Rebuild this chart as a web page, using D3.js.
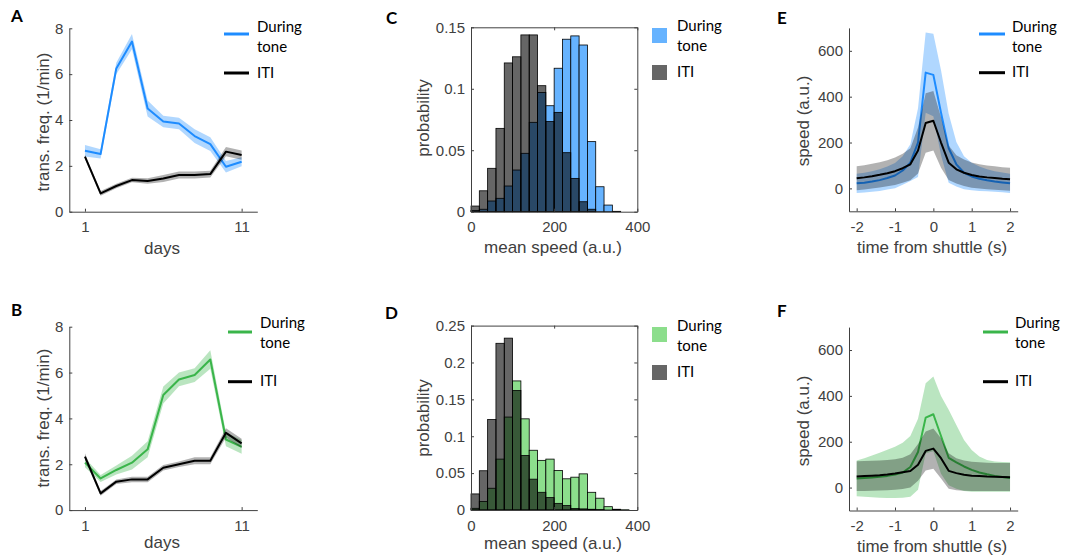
<!DOCTYPE html>
<html><head><meta charset="utf-8">
<script src="https://cdn.jsdelivr.net/npm/d3@7"></script>
<style>body{margin:0;background:#fff}svg{display:block}</style>
</head><body><svg id="c" width="1065" height="558"></svg>
<script>
// ---------- data ----------
const days = [1,2,3,4,5,6,7,8,9,10,11];
const dayTicks = [1, 11];
const freqTicks = [0, 2, 4, 6, 8];
const aToneMean = [2.66,2.52,6.25,7.42,4.5,3.93,3.85,3.3,2.95,1.96,2.18];
const aToneErr  = [0.25,0.2,0.25,0.33,0.35,0.25,0.25,0.3,0.3,0.25,0.2];
const aItiMean  = [2.4,0.8,1.12,1.38,1.34,1.45,1.6,1.6,1.64,2.62,2.47];
const aItiErr   = [0.1,0.1,0.1,0.1,0.12,0.15,0.15,0.15,0.15,0.2,0.2];
const bToneMean = [2.07,1.38,1.75,2.07,2.65,5.02,5.7,5.89,6.57,3.08,2.76];
const bToneErr  = [0.2,0.15,0.2,0.3,0.35,0.37,0.3,0.3,0.4,0.3,0.3];
const bItiMean  = [2.33,0.73,1.24,1.34,1.34,1.85,2.0,2.15,2.15,3.37,2.91];
const bItiErr   = [0.15,0.1,0.1,0.12,0.12,0.12,0.12,0.15,0.15,0.2,0.2];

const binStarts = [0,20,40,60,80,100,120,140,160,180,200,220,240,260,280,300,320,340,360,380];
const speedTicks = [0, 200, 400];
const cProbTicks = [0, 0.05, 0.1, 0.15];
const dProbTicks = [0, 0.05, 0.1, 0.15, 0.2, 0.25];
const cToneProb = [0.001,0.002,0.0087,0.0109,0.0209,0.0339,0.0475,0.0727,0.097,0.0862,0.1167,0.1403,0.143,0.1356,0.057,0.0203,0.0054,0.0003,0,0];
const cItiProb  = [0.0046,0.017,0.0353,0.0678,0.121,0.126,0.1438,0.1438,0.1025,0.0733,0.0808,0.048,0.0271,0.0081,0.002,0,0,0,0,0];
const dToneProb = [0.0023,0.0114,0.0295,0.069,0.126,0.175,0.1236,0.081,0.0673,0.069,0.0536,0.0423,0.0445,0.049,0.024,0.016,0.0045,0.001,0.0003,0];
const dItiProb  = [0.0218,0.0532,0.1227,0.226,0.233,0.162,0.074,0.0418,0.024,0.0168,0.009,0.006,0.002,0.0015,0.001,0.0005,0,0,0,0];

const shuttleTime = [-2,-1.8,-1.6,-1.4,-1.2,-1,-0.8,-0.6,-0.4,-0.2,0,0.2,0.4,0.6,0.8,1,1.2,1.4,1.6,1.8,2];
const timeTicks = [-2,-1,0,1,2];
const speedYTicks = [0,200,400,600];
const eToneMean = [22,25,30,36,45,56,78,112,200,505,495,330,175,105,68,52,42,35,30,26,22];
const eToneHi   = [64,68,75,83,95,111,140,192,350,680,675,515,325,202,140,112,95,83,75,69,64];
const eToneLo   = [-20,-18,-15,-11,-5,1,16,32,50,330,315,145,25,8,-4,-8,-11,-13,-15,-17,-20];
const eItiMean  = [44,48,53,59,66,75,88,105,165,285,295,200,112,83,68,58,52,48,45,42,40];
const eItiHi    = [96,101,107,114,123,135,151,175,265,415,425,310,187,145,126,113,105,100,96,92,90];
const eItiLo    = [-8,-5,-1,4,9,15,25,35,65,155,165,90,37,21,10,3,-1,-4,-6,-8,-10];
const fToneMean = [40,42,44,47,51,57,66,90,155,305,320,225,130,110,92,77,66,58,51,46,42];
const fToneHi   = [118,128,140,152,165,178,195,225,300,455,484,400,339,273,208,164,136,120,114,112,110];
const fToneLo   = [-38,-40,-42,-44,-45,-45,-44,-40,-10,150,158,60,10,-5,-15,-18,-18,-18,-18,-18,-18];
const fItiMean  = [48,50,52,54,57,61,67,72,100,160,170,128,73,63,56,52,50,48,47,46,45];
const fItiHi    = [115,116,117,118,120,124,130,145,190,245,258,215,150,128,118,113,110,108,107,107,107];
const fItiLo    = [-15,-15,-14,-13,-12,-10,-6,0,30,75,82,40,-5,-12,-14,-15,-15,-15,-15,-15,-15];

// ---------- style ----------
const AXC = "#404040";
const FONT_AX = "'Liberation Sans', Arial, Helvetica, sans-serif";
const FONT_LG = "Lato, 'Open Sans', sans-serif";
const BLUE = "#1e8cff", BLUE_HIST = "#66b3ff";
const GREEN = "#3ab54a", GREEN_HIST = "#8cde8c";

const svg = d3.select("#c");

function drawAxes(x, y, xt, yt, xf, yf, box) {
  const g = svg.append("g");
  g.append("g").attr("transform", `translate(0,${y.range()[0]})`)
    .call(d3.axisBottom(x).tickValues(xt).tickFormat(xf).tickSizeInner(-3).tickSizeOuter(0).tickPadding(10));
  g.append("g").attr("transform", `translate(${x.range()[0]},0)`)
    .call(d3.axisLeft(y).tickValues(yt).tickFormat(yf).tickSizeInner(-3).tickSizeOuter(0).tickPadding(6));
  if (box) {
    g.append("g").attr("transform", `translate(0,${y.range()[1]})`)
      .call(d3.axisTop(x).tickValues(xt).tickFormat("").tickSizeInner(-3).tickSizeOuter(0));
    g.append("g").attr("transform", `translate(${x.range()[1]},0)`)
      .call(d3.axisRight(y).tickValues(yt).tickFormat("").tickSizeInner(-3).tickSizeOuter(0));
  }
  g.selectAll(".domain").attr("stroke", AXC).attr("stroke-width", 1);
  g.selectAll(".tick line").attr("stroke", AXC);
  g.selectAll(".tick text").attr("fill", AXC).style("font-family", FONT_AX).style("font-size", "15px");
  return g;
}

function label(txt, cx, cy, rot) {
  svg.append("text").attr("transform", `translate(${cx},${cy})` + (rot ? " rotate(-90)" : ""))
    .attr("text-anchor", "middle").attr("dy", "0.35em")
    .attr("fill", AXC).style("font-family", FONT_AX).style("font-size", "17px").text(txt);
}

function panelLetter(t, x, cy) {
  svg.append("text").attr("x", x).attr("y", cy).attr("dy", "0.36em")
    .style("font-family", FONT_LG).style("font-weight", "bold").style("font-size", "17px")
    .attr("fill", "#000").text(t);
}

function legendText(t, x, cy) {
  svg.append("text").attr("x", x).attr("y", cy).attr("dy", "0.35em")
    .style("font-family", FONT_LG).style("font-size", "15px").attr("fill", "#000").text(t);
}

function lineLegend(color, x0, x1, yTone, yIti, tx, tyDuring, tyTone, tyIti) {
  svg.append("line").attr("x1", x0).attr("x2", x1).attr("y1", yTone).attr("y2", yTone).attr("stroke", color).attr("stroke-width", 3);
  svg.append("line").attr("x1", x0).attr("x2", x1).attr("y1", yIti).attr("y2", yIti).attr("stroke", "#000").attr("stroke-width", 3);
  legendText("During", tx, tyDuring); legendText("tone", tx, tyTone); legendText("ITI", tx, tyIti);
}

function patchLegend(color, x0, yTone, yIti, tx, tyDuring, tyTone, tyIti) {
  svg.append("rect").attr("x", x0).attr("y", yTone).attr("width", 15).attr("height", 15).attr("fill", color);
  svg.append("rect").attr("x", x0).attr("y", yIti).attr("width", 15).attr("height", 15).attr("fill", "#666666");
  legendText("During", tx, tyDuring); legendText("tone", tx, tyTone); legendText("ITI", tx, tyIti);
}

function bandLine(x, y, xs, lo, hi, mean, color, bandColor, bandOp) {
  const idx = xs.map((_, i) => i);
  svg.append("path").datum(idx)
    .attr("d", d3.area().x(i => x(xs[i])).y0(i => y(lo[i])).y1(i => y(hi[i])))
    .attr("fill", bandColor).attr("fill-opacity", bandOp).attr("stroke", "none");
  svg.append("path").datum(idx)
    .attr("d", d3.line().x(i => x(xs[i])).y(i => y(mean[i])))
    .attr("fill", "none").attr("stroke", color).attr("stroke-width", 2).attr("stroke-linejoin", "round");
}

function linePanel(top, toneMean, toneErr, itiMean, itiErr, color) {
  const x = d3.scaleLinear().domain([0, 12]).range([69.3, 257.3]);
  const y = d3.scaleLinear().domain([0, 8]).range([top + 183.4, top]);
  const tLo = toneMean.map((m, i) => m - toneErr[i]), tHi = toneMean.map((m, i) => m + toneErr[i]);
  const iLo = itiMean.map((m, i) => m - itiErr[i]), iHi = itiMean.map((m, i) => m + itiErr[i]);
  bandLine(x, y, days, tLo, tHi, toneMean, color, color, 0.35);
  bandLine(x, y, days, iLo, iHi, itiMean, "#000", "#000", 0.3);
  drawAxes(x, y, dayTicks, freqTicks, d => String(d), d => String(d), false);
}

function histPanel(top, yMax, yTicks, toneProb, itiProb, toneColor) {
  const x = d3.scaleLinear().domain([0, 400]).range([471, 637.3]);
  const y = d3.scaleLinear().domain([0, yMax]).range([top + 184.4, top]);
  const g = svg.append("g");
  g.selectAll("rect.t").data(binStarts).join("rect").attr("class", "t")
    .attr("x", d => x(d)).attr("width", d => x(d + 20) - x(d))
    .attr("y", (d, i) => y(toneProb[i])).attr("height", (d, i) => y(0) - y(toneProb[i]))
    .attr("fill", toneColor).attr("stroke", "#000").attr("stroke-width", 0.8);
  g.selectAll("rect.i").data(binStarts).join("rect").attr("class", "i")
    .attr("x", d => x(d)).attr("width", d => x(d + 20) - x(d))
    .attr("y", (d, i) => y(itiProb[i])).attr("height", (d, i) => y(0) - y(itiProb[i]))
    .attr("fill", "#000").attr("fill-opacity", 0.6).attr("stroke", "#000").attr("stroke-width", 0.8);
  drawAxes(x, y, speedTicks, yTicks, d => String(d), d => String(d), true);
}

function speedPanel(top, tMean, tLo, tHi, iMean, iLo, iHi, color) {
  const x = d3.scaleLinear().domain([-2.2, 2.2]).range([849.0, 1017.7]);
  const y = d3.scaleLinear().domain([-100, 700]).range([top + 183.4, top]);
  bandLine(x, y, shuttleTime, tLo, tHi, tMean, color, color, 0.35);
  bandLine(x, y, shuttleTime, iLo, iHi, iMean, "#000", "#000", 0.3);
  drawAxes(x, y, timeTicks, speedYTicks, d => String(d), d => String(d), false);
}

// ---------- panels ----------
linePanel(28.3, aToneMean, aToneErr, aItiMean, aItiErr, BLUE);
linePanel(326.7, bToneMean, bToneErr, bItiMean, bItiErr, GREEN);
histPanel(27.3, 0.15, cProbTicks, cToneProb, cItiProb, BLUE_HIST);
histPanel(325.6, 0.25, dProbTicks, dToneProb, dItiProb, GREEN_HIST);
speedPanel(27.9, eToneMean, eToneLo, eToneHi, eItiMean, eItiLo, eItiHi, BLUE);
speedPanel(327.1, fToneMean, fToneLo, fToneHi, fItiMean, fItiLo, fItiHi, GREEN);

// axis labels
label("trans. freq. (1/min)", 43, 122, true);
label("days", 162, 248);
label("trans. freq. (1/min)", 43, 418, true);
label("days", 162, 542);
label("probability", 423, 118, true);
label("mean speed (a.u.)", 553, 247);
label("probability", 423, 418, true);
label("mean speed (a.u.)", 553, 543);
label("speed (a.u.)", 803, 121, true);
label("time from shuttle (s)", 932, 247);
label("speed (a.u.)", 803, 421, true);
label("time from shuttle (s)", 932, 546);

// legends
lineLegend(BLUE, 224, 249, 34, 73, 257, 27, 47, 73);
lineLegend(GREEN, 228, 252, 332, 381.7, 260, 323, 343, 381);
patchLegend(BLUE_HIST, 652, 28, 65, 677, 26, 46, 72);
patchLegend(GREEN_HIST, 652, 327, 365, 677, 326, 346, 372);
lineLegend(BLUE, 979, 1005, 34, 72.7, 1012, 27, 47, 72);
lineLegend(GREEN, 983, 1008, 332, 381.7, 1015, 323, 343, 381);

// panel letters
panelLetter("A", 11, 16);
panelLetter("B", 11, 310);
panelLetter("C", 386, 17.5);
panelLetter("D", 385, 312.5);
panelLetter("E", 777, 17.5);
panelLetter("F", 777, 311);
</script></body></html>
